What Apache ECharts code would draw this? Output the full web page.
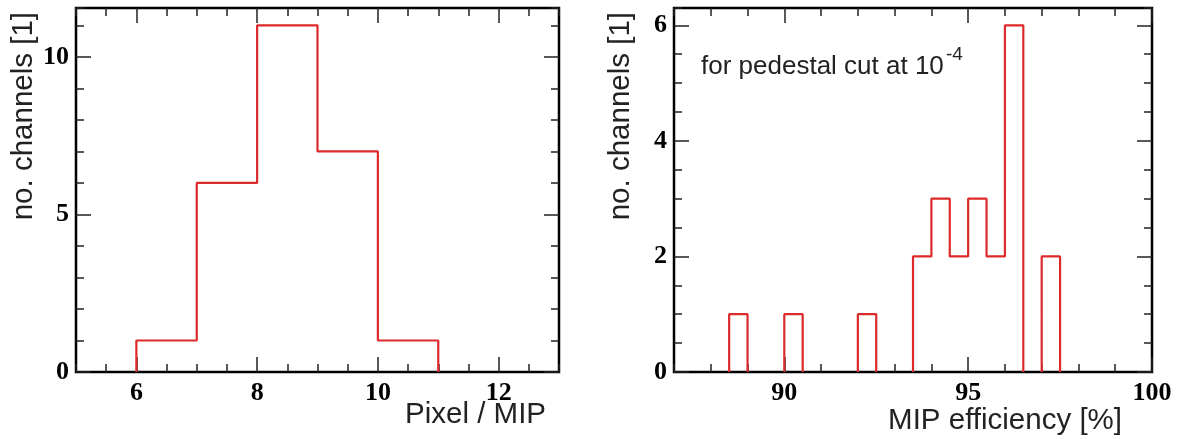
<!DOCTYPE html>
<html>
<head>
<meta charset="utf-8">
<script src="https://cdn.jsdelivr.net/npm/echarts@6/dist/echarts.min.js"></script>
<style>html,body{margin:0;padding:0;background:#fff}#c{width:1179px;height:439px}</style>
</head>
<body>
<div id="c"></div>
<script>
// ---- data ----
const leftBinStart = 6;
const leftBinWidth = 1;
const leftCounts = [1, 6, 11, 7, 1];
const leftXRange = [5, 13];
const leftYRange = [0, 11.55];
const leftXTicks = [6, 8, 10, 12];
const leftYTicks = [0, 5, 10];

const rightBinStart = 88.5;
const rightBinWidth = 0.5;
const rightCounts = [1, 0, 0, 1, 0, 0, 0, 1, 0, 0, 2, 3, 2, 3, 2, 6, 0, 2];
const rightXRange = [87, 100];
const rightYRange = [0, 6.3];
const rightXTicks = [90, 95, 100];
const rightYTicks = [0, 2, 4, 6];

const leftXTitle = 'Pixel / MIP';
const rightXTitle = 'MIP efficiency [%]';
const yTitle = 'no. channels [1]';
const noteText = 'for pedestal cut at 10';
const noteSup = '-4';

// ---- build histogram outline from bins ----
function outline(start, width, counts) {
  const pts = [];
  let inRun = false;
  for (let i = 0; i < counts.length; i++) {
    const x0 = start + i * width, x1 = x0 + width, c = counts[i];
    if (c > 0) {
      if (!inRun) { pts.push([x0, 0]); inRun = true; }
      pts.push([x0, c], [x1, c]);
    } else if (inRun) {
      pts.push([x0, 0], [x0, '-']);
      inRun = false;
    }
  }
  if (inRun) pts.push([start + counts.length * width, 0]);
  return pts;
}

const RED = '#dd2a2a';
const labelFont = { fontFamily: 'Liberation Serif', fontWeight: 'bold', fontSize: 26, color: '#000' };

function axisBase(range, gridIndex, position) {
  return {
    type: 'value', gridIndex, position, min: range[0], max: range[1],
    axisLine: { show: false, onZero: false },
    splitLine: { show: false },
    minorTick: { show: false },
    axisPointer: { show: false }
  };
}
function major(range, gi, pos, ticks, withLabels, margin) {
  const a = axisBase(range, gi, pos);
  a.axisTick = { show: true, inside: true, length: 15, customValues: ticks, lineStyle: { color: '#222', width: 1.5 } };
  a.axisLabel = withLabels
    ? Object.assign({ show: true, customValues: ticks, margin: margin }, labelFont)
    : { show: false };
  return a;
}
function minor(range, gi, pos, interval) {
  const a = axisBase(range, gi, pos);
  a.interval = interval;
  a.axisTick = { show: true, inside: true, length: 8, lineStyle: { color: '#222', width: 1.5 } };
  a.axisLabel = { show: false };
  return a;
}

const grids = [
  { left: 76, top: 8, width: 483, height: 364, show: true, borderColor: '#000', borderWidth: 2.5, backgroundColor: 'transparent' },
  { left: 674, top: 8, width: 478, height: 364, show: true, borderColor: '#000', borderWidth: 2.5, backgroundColor: 'transparent' }
];

const titleStyle = { fontFamily: 'Liberation Sans', fontSize: 29.5, fill: '#222', verticalAlign: 'middle' };

const option = {
  animation: false,
  backgroundColor: '#fff',
  grid: grids,
  xAxis: [
    major(leftXRange, 0, 'bottom', leftXTicks, true, 8),
    minor(leftXRange, 0, 'bottom', 0.5),
    major(leftXRange, 0, 'top', leftXTicks, false),
    minor(leftXRange, 0, 'top', 0.5),
    major(rightXRange, 1, 'bottom', rightXTicks, true, 8),
    minor(rightXRange, 1, 'bottom', 1),
    major(rightXRange, 1, 'top', rightXTicks, false),
    minor(rightXRange, 1, 'top', 1)
  ],
  yAxis: [
    major(leftYRange, 0, 'left', leftYTicks, true, 7),
    minor(leftYRange, 0, 'left', 1),
    major(leftYRange, 0, 'right', leftYTicks, false),
    minor(leftYRange, 0, 'right', 1),
    major(rightYRange, 1, 'left', rightYTicks, true, 7),
    minor(rightYRange, 1, 'left', 0.5),
    major(rightYRange, 1, 'right', rightYTicks, false),
    minor(rightYRange, 1, 'right', 0.5)
  ],
  series: [
    { type: 'line', xAxisIndex: 0, yAxisIndex: 0, data: outline(leftBinStart, leftBinWidth, leftCounts),
      symbol: 'none', connectNulls: false, lineStyle: { color: RED, width: 2.2 }, z: 3 },
    { type: 'line', xAxisIndex: 4, yAxisIndex: 4, data: outline(rightBinStart, rightBinWidth, rightCounts),
      symbol: 'none', connectNulls: false, lineStyle: { color: RED, width: 2.2 }, z: 3 }
  ],
  graphic: [
    { type: 'text', x: 24, y: 12, rotation: Math.PI / 2,
      style: Object.assign({ text: yTitle, align: 'right' }, titleStyle) },
    { type: 'text', x: 621, y: 12, rotation: Math.PI / 2,
      style: Object.assign({ text: yTitle, align: 'right' }, titleStyle) },
    { type: 'text', x: 546, y: 415,
      style: Object.assign({ text: leftXTitle, align: 'right' }, titleStyle) },
    { type: 'text', x: 1122, y: 421,
      style: Object.assign({ text: rightXTitle, align: 'right' }, titleStyle) },
    { type: 'text', x: 701, y: 67,
      style: { text: noteText, fontFamily: 'Liberation Sans', fontSize: 26, fill: '#222', align: 'left', verticalAlign: 'middle' } },
    { type: 'text', x: 946, y: 55,
      style: { text: noteSup, fontFamily: 'Liberation Sans', fontSize: 19, fill: '#222', align: 'left', verticalAlign: 'middle' } }
  ]
};

const chart = echarts.init(document.getElementById('c'), null, { renderer: 'canvas' });
chart.setOption(option);
</script>
</body>
</html>
